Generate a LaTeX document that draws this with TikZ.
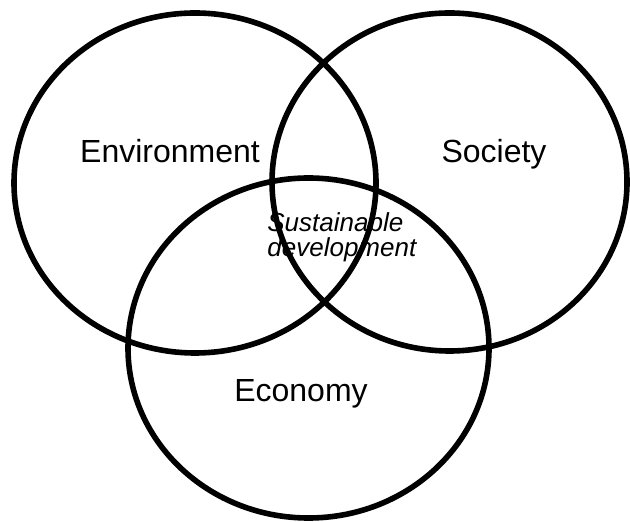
\documentclass[tikz,border=0pt]{standalone}
\usepackage{fontspec}
\setmainfont{Liberation Sans}
\usetikzlibrary{
    shapes.geometric,
    positioning
}
\tikzset{
    circ/.style={
        ellipse,
        draw,
        line width=2.8pt,
        inner sep=0pt,
    },
    lbl/.style={
        font=\fontsize{16}{19}\selectfont,
        inner sep=0pt,
        anchor=base,
    },
}

\begin{document}
\begin{tikzpicture}[x=0.5pt,y=-0.5pt]
            \useasboundingbox (0,0) rectangle (630,522);

            \node[circ,minimum width=181pt,minimum height=170pt] (env) at (195,183) {};
            \node[circ,minimum width=177.5pt,minimum height=169pt] (soc) at (449.5,182) {};
            \node[circ,minimum width=180.5pt,minimum height=170pt] (eco) at (308.5,348) {};

            \node[lbl] (envlabel) at (170,163) {Environment};
            \node[lbl] (soclabel) at (494,163) {Society};
            \node[lbl] (ecolabel) at (301,401) {Economy};

            \node[font=\fontsize{13}{12.5}\selectfont\itshape,align=left,inner sep=0pt,anchor=north west] (sdlabel) at (267,212) {Sustainable\\development};
\end{tikzpicture}
\end{document}
